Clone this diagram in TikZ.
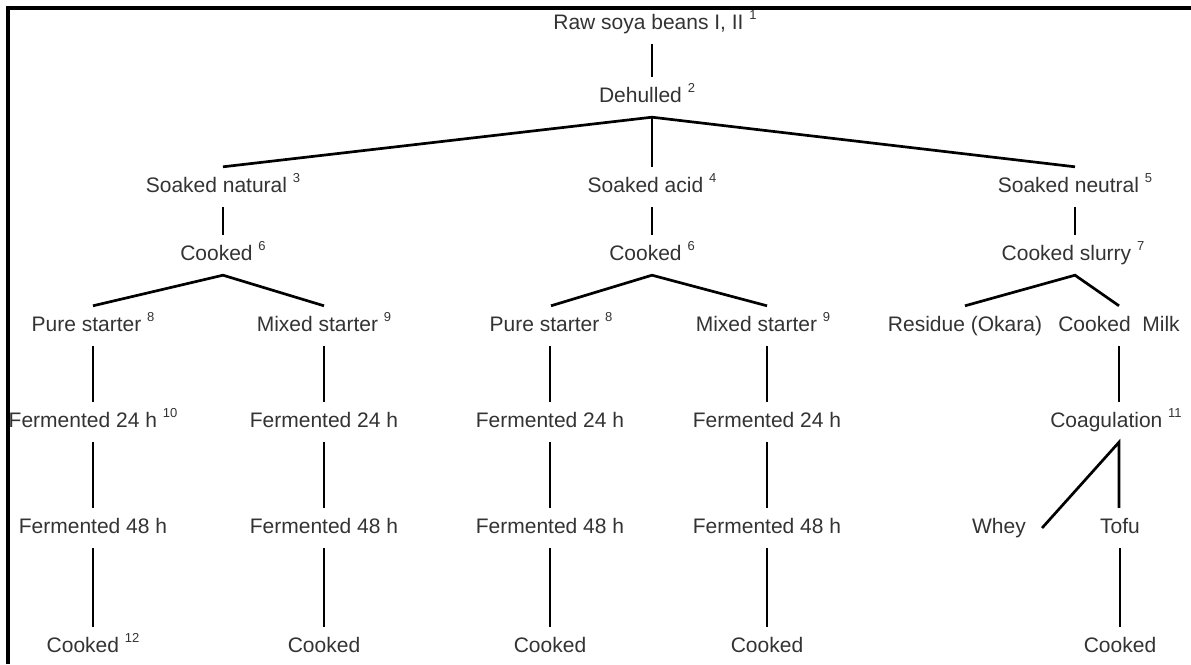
\documentclass[tikz,border=0pt]{standalone}
\usepackage{fontspec}
\setmainfont{Liberation Sans}
\definecolor{txt}{HTML}{333333}
\newcommand\supn[1]{\raisebox{0.5em}{\fontsize{13}{13}\selectfont #1}}
\begin{document}
\begin{tikzpicture}[x=1pt,y=-1pt,
  lbl/.style={text=txt,font=\fontsize{21}{24}\selectfont,inner sep=0pt,
    minimum height=40pt,text height=15pt,text depth=4pt},
  conn/.style={draw=black,line width=2.7pt},
  frame/.style={draw=black,line width=3.2pt}]
\useasboundingbox (0,0) rectangle (1191,664);
\draw[frame] (8,664) -- (8,8) -- (1191,8);
% top
\node[lbl] (raw) at (655,24) {Raw soya beans I, II \supn{1}};
\node[lbl] (deh) at (647,97) {Dehulled \supn{2}};
% row A
\node[lbl] (sn) at (223,187) {Soaked natural \supn{3}};
\node[lbl] (sa) at (652,187) {Soaked acid \supn{4}};
\node[lbl] (su) at (1075,187) {Soaked neutral \supn{5}};
% row B
\node[lbl] (cn) at (223,255) {Cooked \supn{6}};
\node[lbl] (ca) at (652,255) {Cooked \supn{6}};
\node[lbl] (cs) at (1073,255) {Cooked slurry \supn{7}};
% row C
\node[lbl] (ps1) at (93,326) {Pure starter \supn{8}};
\node[lbl] (ms1) at (324,326) {Mixed starter \supn{9}};
\node[lbl] (ps2) at (551,326) {Pure starter \supn{8}};
\node[lbl] (ms2) at (763,326) {Mixed starter \supn{9}};
\node[lbl] (res) at (965,326) {Residue (Okara)};
\node[lbl] (milk) at (1119,326) {Cooked\ \ Milk};
% row D
\node[lbl] (f24a) at (93,422) {Fermented 24 h \supn{10}};
\node[lbl] (f24b) at (324,422) {Fermented 24 h};
\node[lbl] (f24c) at (550,422) {Fermented 24 h};
\node[lbl] (f24d) at (767,422) {Fermented 24 h};
\node[lbl] (coag) at (1116,422) {Coagulation \supn{11}};
% row E
\node[lbl] (f48a) at (93,528) {Fermented 48 h};
\node[lbl] (f48b) at (324,528) {Fermented 48 h};
\node[lbl] (f48c) at (550,528) {Fermented 48 h};
\node[lbl] (f48d) at (767,528) {Fermented 48 h};
\node[lbl] (whey) at (999,528) {Whey};
\node[lbl] (tofu) at (1120,528) {Tofu};
% row F
\node[lbl] (ck1) at (93,647) {Cooked \supn{12}};
\node[lbl] (ck2) at (324,647) {Cooked};
\node[lbl] (ck3) at (550,647) {Cooked};
\node[lbl] (ck4) at (767,647) {Cooked};
\node[lbl] (ck5) at (1120,647) {Cooked};
% connectors
\draw[conn] (raw.south -| 652,0) -- (deh.north -| 652,0);
\coordinate (dapex) at (deh.south -| 652,0);
\draw[conn] (sn.north) -- (dapex) -- (su.north);
\draw[conn] (dapex) -- (sa.north);
\draw[conn] (sn.south) -- (cn.north);
\draw[conn] (sa.south) -- (ca.north);
\draw[conn] (su.south) -- (su.south |- cs.north);
\draw[conn] (ps1.north) -- (cn.south) -- (ms1.north);
\draw[conn] (ps2.north) -- (ca.south) -- (ms2.north -| 767,0);
\coordinate (sapex) at (cs.south -| 1075,0);
\draw[conn] (res.north) -- (sapex) -- (milk.north);
\draw[conn] (ps1.south) -- (f24a.north -| ps1.south);
\draw[conn] (ms1.south) -- (f24b.north);
\draw[conn] (ps2.south -| f24c.north) -- (f24c.north);
\draw[conn] (ms2.south -| f24d.north) -- (f24d.north);
\draw[conn] (milk.south) -- (milk.south |- coag.north);
\draw[conn] (f24a.south -| ps1.south) -- (f48a.north);
\draw[conn] (f24b.south) -- (f48b.north);
\draw[conn] (f24c.south) -- (f48c.north);
\draw[conn] (f24d.south) -- (f48d.north);
\coordinate (capex) at (coag.south -| milk.south);
\draw[conn] ([xshift=16pt]whey.east) -- (capex) -- (capex |- tofu.north);
\draw[conn] (f48a.south) -- (f48a.south |- ck1.north);
\draw[conn] (f48b.south) -- (ck2.north);
\draw[conn] (f48c.south) -- (ck3.north);
\draw[conn] (f48d.south) -- (ck4.north);
\draw[conn] (tofu.south) -- (ck5.north);
\end{tikzpicture}
\end{document}
